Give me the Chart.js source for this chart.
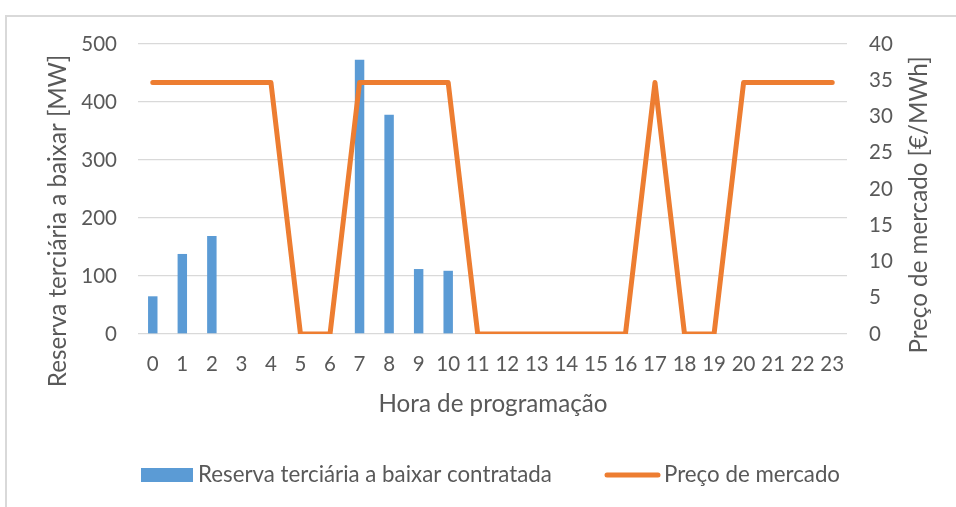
<!DOCTYPE html>
<html>
<head>
<meta charset="utf-8">
<script src="https://cdn.jsdelivr.net/npm/chart.js@4/dist/chart.umd.min.js"></script>
<style>
html,body{margin:0;padding:0;background:#fff;overflow:hidden;}
#frame{position:absolute;left:5px;top:15px;width:1000px;height:600px;border-left:2px solid #d9d9d9;border-top:2px solid #d9d9d9;}
#wrap{position:absolute;left:0;top:0;width:956px;height:507px;}
</style>
</head>
<body>
<div id="frame"></div>
<div id="wrap"><canvas id="c" width="956" height="507"></canvas></div>
<script>
// ---- data ----
const hours = ["0","1","2","3","4","5","6","7","8","9","10","11","12","13","14","15","16","17","18","19","20","21","22","23"];
const reservaMW = [65,138,169,0,0,0,0,473,378,112,109,0,0,0,0,0,0,0,0,0,0,0,0,0];
const precoMercado = [34.7,34.7,34.7,34.7,34.7,0,0,34.7,34.7,34.7,34.7,0,0,0,0,0,0,34.7,0,0,34.7,34.7,34.7,34.7];
const leftTicks = [0,100,200,300,400,500];
const rightTicks = [0,5,10,15,20,25,30,35,40];
const seriesNames = ["Reserva terciária a baixar contratada","Preço de mercado"];
const titleX = "Hora de programação";
const titleYL = "Reserva terciária a baixar [MW]";
const titleYR = "Preço de mercado [€/MWh]";

const FONT = "Lato";
const TXT = "#595959";
const BLUE = "#5B9BD5";
const ORANGE = "#ED7D31";

const titlesAndLegend = {
  id: "titlesAndLegend",
  afterDraw(chart) {
    const ctx = chart.ctx;
    ctx.save();
    ctx.fillStyle = TXT;
    ctx.font = "24.2px " + FONT;
    ctx.textAlign = "center";
    ctx.textBaseline = "middle";
    // x title
    ctx.fillText(titleX, 493, 404);
    // left title
    ctx.save();
    ctx.translate(58, 221);
    ctx.rotate(-Math.PI/2);
    ctx.fillText(titleYL, 0, 0);
    ctx.restore();
    // right title
    ctx.save();
    ctx.translate(919, 205);
    ctx.rotate(-Math.PI/2);
    ctx.fillText(titleYR, 0, 0);
    ctx.restore();
    // legend
    const ly = 475;
    ctx.fillStyle = chart.data.datasets[0].backgroundColor;
    ctx.fillRect(141, ly-7, 52, 14);
    ctx.strokeStyle = chart.data.datasets[1].borderColor;
    ctx.lineWidth = 5;
    ctx.lineCap = "round";
    ctx.beginPath();
    ctx.moveTo(607, ly);
    ctx.lineTo(658, ly);
    ctx.stroke();
    ctx.fillStyle = TXT;
    ctx.font = "22.3px " + FONT;
    ctx.textAlign = "left";
    ctx.fillText(chart.data.datasets[0].label, 198, ly);
    ctx.fillText(chart.data.datasets[1].label, 664, ly);
    ctx.restore();
  }
};

new Chart(document.getElementById("c"), {
  data: {
    labels: hours,
    datasets: [
      {
        type: "bar",
        label: seriesNames[0],
        data: reservaMW,
        yAxisID: "y",
        backgroundColor: BLUE,
        barPercentage: 0.32,
        categoryPercentage: 1,
        order: 2
      },
      {
        type: "line",
        label: seriesNames[1],
        data: precoMercado,
        yAxisID: "y1",
        borderColor: ORANGE,
        backgroundColor: ORANGE,
        borderWidth: 5,
        borderJoinStyle: "round",
        borderCapStyle: "round",
        pointRadius: 0,
        tension: 0,
        order: 1
      }
    ]
  },
  options: {
    responsive: false,
    animation: false,
    devicePixelRatio: 1,
    layout: { padding: { top: 44, left: 0, right: 0, bottom: 0 } },
    plugins: { legend: { display: false }, tooltip: { enabled: false } },
    scales: {
      x: {
        grid: { display: false, drawTicks: false },
        border: { display: false },
        ticks: { color: TXT, font: { family: FONT, size: 20.5 }, padding: 18, maxRotation: 0, autoSkip: false },
        afterFit(s) { s.height = 173; }
      },
      y: {
        position: "left",
        min: 0, max: 500,
        grid: { color: "#d9d9d9", lineWidth: 1.3, drawTicks: false },
        border: { display: false },
        afterBuildTicks(s) { s.ticks = leftTicks.map(v => ({ value: v })); },
        ticks: { color: TXT, font: { family: FONT, size: 20.5 }, padding: 21 },
        afterFit(s) { s.width = 138; }
      },
      y1: {
        position: "right",
        min: 0, max: 40,
        grid: { display: false, drawTicks: false },
        border: { display: false },
        afterBuildTicks(s) { s.ticks = rightTicks.map(v => ({ value: v })); },
        ticks: { color: TXT, font: { family: FONT, size: 20.5 }, padding: 22 },
        afterFit(s) { s.width = 109; }
      }
    }
  },
  plugins: [titlesAndLegend]
});
</script>
</body>
</html>
